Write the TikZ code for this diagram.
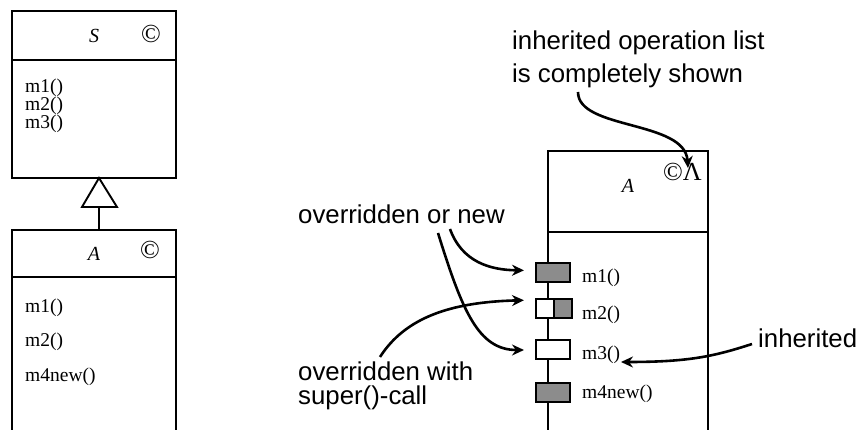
\documentclass[tikz,border=0pt]{standalone}
\usepackage{fontspec}
\setmainfont{Liberation Serif}
\newfontfamily\annfont{Liberation Sans}
\usetikzlibrary{arrows.meta}
\definecolor{mkgray}{RGB}{140,140,140}
\begin{document}
\begin{tikzpicture}[x=1pt,y=-1pt,
  boxline/.style={line width=1.9pt},
  ann/.style={font=\annfont\fontsize{25.8}{30}\selectfont, inner sep=0pt, anchor=base west},
  op/.style={font=\fontsize{19.5}{20}\selectfont, inner sep=0pt, anchor=west},
  cname/.style={font=\itshape\fontsize{20}{20}\selectfont, inner sep=0pt},
  copysym/.style={font=\fontsize{26}{26}\selectfont, inner sep=0pt},
  arr/.style={line width=2.6pt, -{Stealth[length=12pt,width=11pt]}},
  mk/.style={draw, line width=2pt, minimum width=34pt, minimum height=19pt, inner sep=0pt, fill=mkgray}
]
\useasboundingbox (0,0) rectangle (860,430);

% ---- left: class S ----
\draw[boxline] (12,11) rectangle (176,178);
\draw[boxline] (12,60) -- (176,60);
\node[cname] (sname) at (94,36) {S};
\node[copysym] (scopy) at (151,34) {©};
\node[op] (s1) at (25,88) {m1()};
\node[op] (s2) at (25,106) {m2()};
\node[op] (s3) at (25,124) {m3()};

% ---- generalization ----
\draw[line width=1.6pt] (99,207) -- (99,230);
\draw[line width=1.9pt, fill=white] (99,178) -- (117,207) -- (82,207) -- cycle;

% ---- left: class A ----
\draw[boxline] (12,430) -- (12,230) -- (176,230) -- (176,430);
\draw[boxline] (12,277) -- (176,277);
\node[cname] (aname) at (94,254) {A};
\node[copysym] (acopy) at (150,250) {©};
\node[op] (a1) at (25,308) {m1()};
\node[op] (a2) at (25,342) {m2()};
\node[op] (a4) at (25,377) {m4new()};

% ---- right: class A with markers ----
\draw[boxline] (548,430) -- (548,151) -- (708,151) -- (708,430);
\draw[boxline] (548,232) -- (708,232);
\node[cname] (rname) at (628,186) {A};
\node[copysym] (rcopy) at (682.5,172) {©Λ};

\node[mk] (k1) at (553,272.5) {};
\node[mk, fill=white, minimum width=36pt,
  path picture={\fill[mkgray] (path picture bounding box.north) rectangle (path picture bounding box.south east);}]
  (k2) at (554,309) {};
\draw[line width=2pt] (k2.north) -- (k2.south);
\node[mk, fill=white] (k3) at (553,350) {};
\node[mk] (k4) at (553,393) {};

\node[op] (r1) at (582,278) {m1()};
\node[op] (r2) at (582,315) {m2()};
\node[op] (r3) at (582,355) {m3()};
\node[op] (r4) at (582,394) {m4new()};

% ---- annotations ----
\node[ann] (top1) at (512,50) {inherited operation list};
\node[ann] (top2) at (512,83) {is completely shown};
\node[ann] (ovn) at (298,224) {overridden or new};
\node[ann] (ows1) at (298,381) {overridden with};
\node[ann] (ows2) at (298,404.5) {super()-call};
\node[ann] (inh) at (758,348) {inherited};

\coordinate (c1) at (578,92);
\coordinate (lam) at (688,168);
\coordinate (c2) at (450,229);
\coordinate (c3) at (438,233);
\coordinate (c4) at (380,357);
\coordinate (c5) at (752,344);
\coordinate (e5) at (621,362);

\draw[arr] (c1) .. controls (578,130) and (685,120) .. (lam);
\draw[arr, shorten >=11pt] (c2) .. controls (462,262) and (490,270) .. ([yshift=2pt]k1.west);
\draw[arr, shorten >=11pt] (c3) .. controls (462,310) and (478,350) .. (k3.west);
\draw[arr, shorten >=11pt] (c4) .. controls (405,318) and (450,302) .. ([yshift=9pt]k2.west);
\draw[arr] (c5) .. controls (715,356) and (690,362) .. (e5);
\end{tikzpicture}
\end{document}
